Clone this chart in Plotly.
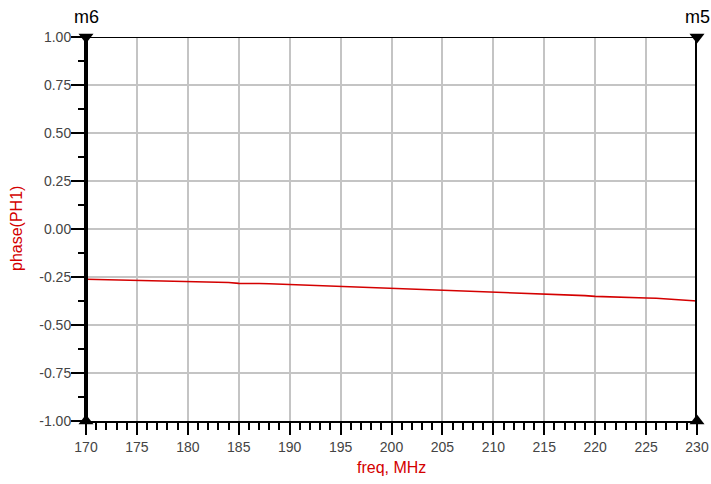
import plotly.graph_objects as go

# Frequency sweep (MHz) and read phase values
freq = list(range(170, 231))
phase = [
    -0.262, -0.263, -0.263, -0.265, -0.265, -0.269, -0.268, -0.270, -0.271, -0.272,
    -0.274, -0.275, -0.277, -0.277, -0.279, -0.283, -0.282, -0.284, -0.285, -0.287,
    -0.290, -0.290, -0.292, -0.294, -0.295, -0.300, -0.299, -0.302, -0.304, -0.305,
    -0.309, -0.310, -0.312, -0.313, -0.316, -0.318, -0.319, -0.320, -0.322, -0.324,
    -0.326, -0.328, -0.331, -0.332, -0.335, -0.339, -0.340, -0.343, -0.344, -0.347,
    -0.351, -0.352, -0.354, -0.355, -0.357, -0.359, -0.361, -0.364, -0.367, -0.371,
    -0.375,
]

marker_freqs = [170, 230]
marker_names = ["m6", "m5"]

x_ticks = list(range(170, 231, 5))
y_ticks = [1.0, 0.75, 0.5, 0.25, 0.0, -0.25, -0.5, -0.75, -1.0]
y_labels = ["1.00", "0.75", "0.50", "0.25", "0.00", "-0.25", "-0.50", "-0.75", "-1.00"]

FONT = "Liberation Sans, Arial"
RED = "#d40000"

fig = go.Figure()

fig.add_trace(go.Scatter(x=freq, y=phase, mode="lines",
                         line=dict(color=RED, width=1.6),
                         showlegend=False, hoverinfo="skip"))

# marker lines
for mf in marker_freqs:
    fig.add_trace(go.Scatter(x=[mf, mf], y=[-1, 1], mode="lines",
                             line=dict(color="black", width=4),
                             showlegend=False, hoverinfo="skip", cliponaxis=False))

fig.add_trace(go.Scatter(x=marker_freqs, y=[1] * len(marker_freqs), mode="markers",
                         marker=dict(symbol="triangle-down", size=13, color="black"),
                         showlegend=False, cliponaxis=False, hoverinfo="skip"))
fig.add_trace(go.Scatter(x=marker_freqs, y=[-1] * len(marker_freqs), mode="markers",
                         marker=dict(symbol="triangle-up", size=13, color="black"),
                         showlegend=False, cliponaxis=False, hoverinfo="skip"))

for mf, nm in zip(marker_freqs, marker_names):
    fig.add_annotation(x=mf, y=1, xref="x", yref="y", text=nm, showarrow=False,
                       yanchor="middle", yshift=20, xshift=0,
                       font=dict(family=FONT, size=18, color="black"))

# top border
fig.add_shape(type="line", xref="x", yref="y", x0=170, x1=230, y0=1, y1=1,
              line=dict(color="black", width=2))

# axis titles
fig.add_annotation(x=0.5, y=-(467 - 421) / 384, xref="paper", yref="paper",
                   text="freq, MHz", showarrow=False, yanchor="middle",
                   font=dict(family=FONT, size=16, color=RED))
fig.add_annotation(x=-(86 - 16) / 611, y=0.5, xref="paper", yref="paper",
                   text="phase(PH1)", textangle=-90, showarrow=False,
                   xanchor="center", yanchor="middle",
                   font=dict(family=FONT, size=16, color=RED))

fig.update_xaxes(range=[170, 230], tickmode="array", tickvals=x_ticks,
                 ticktext=[str(v) for v in x_ticks], automargin=False,
                 ticks="outside", ticklen=12, tickwidth=2, tickcolor="black",
                 minor=dict(dtick=1, tick0=170, ticks="outside", ticklen=7, tickwidth=2,
                            tickcolor="black", showgrid=False),
                 showgrid=True, gridcolor="#c4c4c4", gridwidth=1.5,
                 showline=True, linecolor="black", linewidth=2,
                 zeroline=False,
                 tickfont=dict(family=FONT, size=14, color="#444"))

fig.update_yaxes(range=[-1, 1], tickmode="array", tickvals=y_ticks, ticktext=y_labels,
                 automargin=False, ticklabelstandoff=-3,
                 ticks="outside", ticklen=13, tickwidth=2, tickcolor="black",
                 minor=dict(dtick=0.125, tick0=0, ticks="outside", ticklen=6, tickwidth=2,
                            tickcolor="black", showgrid=False),
                 showgrid=True, gridcolor="#c4c4c4", gridwidth=1.5,
                 showline=True, linecolor="black", linewidth=2,
                 zeroline=False,
                 tickfont=dict(family=FONT, size=14, color="#444"))

fig.update_layout(width=711, height=484, hovermode=False,
                  margin=dict(l=86, r=14, t=37, b=63, autoexpand=False),
                  plot_bgcolor="white", paper_bgcolor="white")

# remove the default page margin so the figure fills the window exactly
fig.write_html("out.html",
               config={"displayModeBar": False},
               post_script="document.body.style.margin='0';document.body.style.overflow='hidden';")
